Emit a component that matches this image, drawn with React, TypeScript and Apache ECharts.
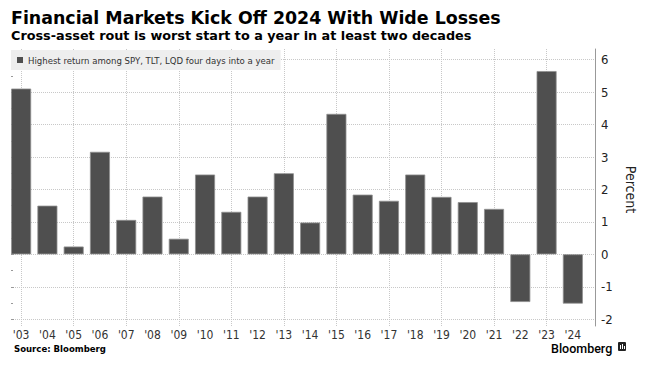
import React, { useEffect, useRef } from 'react';
import * as echarts from 'echarts';

const years = ["'03", "'04", "'05", "'06", "'07", "'08", "'09", "'10", "'11", "'12", "'13", "'14", "'15", "'16", "'17", "'18", "'19", "'20", "'21", "'22", "'23", "'24"];
const values = [5.11, 1.5, 0.24, 3.16, 1.06, 1.78, 0.48, 2.46, 1.31, 1.78, 2.5, 0.98, 4.33, 1.84, 1.65, 2.46, 1.77, 1.61, 1.4, -1.47, 5.65, -1.52];
const seriesName = 'Highest return among SPY, TLT, LQD four days into a year';
const title = 'Financial Markets Kick Off 2024 With Wide Losses';
const subtitle = 'Cross-asset rout is worst start to a year in at least two decades';
const source = 'Source: Bloomberg';
const tickMin = -2;
const tickMax = 6;
const outerMin = -2.21;
const outerMax = 6.33;

const FONT = '"DejaVu Sans Condensed", "DejaVu Sans", sans-serif';
const WIDE = '"DejaVu Sans", sans-serif';

export default function App() {
  const ref = useRef<HTMLDivElement>(null);
  useEffect(() => {
    if (!ref.current) return;
    const chart = echarts.init(ref.current, undefined, { renderer: 'svg' });
    const top = 49;
    const height = 277;
    const unit = height / (outerMax - outerMin);
    const innerTop = top + (outerMax - tickMax) * unit;
    const innerHeight = (tickMax - tickMin) * unit;
    chart.setOption({
      animation: false,
      backgroundColor: '#ffffff',
      textStyle: { fontFamily: FONT },
      legend: {
        left: 11,
        top: 50,
        padding: [5, 6, 5, 6],
        backgroundColor: '#eeeeee',
        itemWidth: 6,
        itemHeight: 6,
        icon: 'rect',
        selectedMode: false,
        itemStyle: { borderWidth: 0, color: '#4f4f4f' },
        textStyle: { fontSize: 9.5, color: '#333', fontFamily: FONT },
        data: [seriesName],
      },
      grid: [
        { left: 8, top, width: 578, height },
        { left: 11, top: innerTop, width: 584, height: innerHeight },
      ],
      xAxis: [
        {
          type: 'category',
          gridIndex: 0,
          data: years,
          axisLine: { show: false },
          axisTick: { show: false },
          axisLabel: { fontSize: 12, lineHeight: 12, color: '#333', margin: 3, fontFamily: FONT, interval: 0 },
          splitLine: {
            show: true,
            alignWithLabel: true,
            interval: (i: number) => i % 2 === 0,
            lineStyle: { type: 'dotted', color: '#c8c8c8', width: 1 },
          },
        },
        { type: 'value', gridIndex: 1, show: false, min: 0, max: 1 },
      ],
      yAxis: [
        {
          type: 'value',
          gridIndex: 0,
          position: 'right',
          offset: 9,
          min: outerMin,
          max: outerMax,
          axisLine: { show: true, lineStyle: { color: '#999', width: 1 } },
          axisTick: { show: false },
          axisLabel: { show: false },
          splitLine: { show: false },
        },
        {
          type: 'value',
          gridIndex: 1,
          position: 'right',
          min: tickMin,
          max: tickMax,
          interval: 1,
          axisLine: { show: false },
          axisTick: { show: true, length: 3, lineStyle: { color: '#999' } },
          minorTick: { show: true, splitNumber: 2, length: 2, lineStyle: { color: '#999' } },
          axisLabel: { fontSize: 13, color: '#222', margin: 6, fontFamily: FONT },
          splitLine: { show: true, lineStyle: { type: 'dotted', color: '#c8c8c8', width: 1 } },
          name: 'Percent',
          nameLocation: 'middle',
          nameRotate: -90,
          nameGap: 19,
          nameTextStyle: { fontSize: 14, color: '#222', fontFamily: FONT },
        },
      ],
      series: [
        {
          name: seriesName,
          type: 'bar',
          xAxisIndex: 0,
          yAxisIndex: 0,
          data: values,
          barWidth: 20,
          itemStyle: { color: '#4f4f4f', borderColor: '#8f8f8f', borderWidth: 0.8 },
        },
      ],
      graphic: [
        { type: 'text', left: 11, top: 9, style: { text: title, font: `bold 17.4px ${WIDE}`, fill: '#000' } },
        { type: 'text', left: 11, top: 29, style: { text: subtitle, font: `bold 12.8px ${WIDE}`, fill: '#000' } },
        { type: 'text', left: 14, top: 343, style: { text: source, font: `bold 9.5px ${FONT}`, fill: '#000', lineHeight: 11 } },
        { type: 'text', left: 551, top: 342, style: { text: 'Bloomberg', font: `500 12.5px Roboto`, fill: '#000', lineHeight: 12 } },
        { type: 'rect', left: 618, top: 342, shape: { width: 8, height: 9, r: 1 }, style: { fill: '#222' } },
        { type: 'rect', left: 620, top: 345, shape: { width: 1, height: 4 }, style: { fill: '#fff' } },
        { type: 'rect', left: 622, top: 344, shape: { width: 1, height: 5 }, style: { fill: '#fff' } },
        { type: 'rect', left: 624, top: 346, shape: { width: 1, height: 3 }, style: { fill: '#fff' } },
      ],
    });
    return () => chart.dispose();
  }, []);
  return <div ref={ref} style={{ width: 654, height: 376, position: 'absolute', left: 0, top: 0 }} />;
}
